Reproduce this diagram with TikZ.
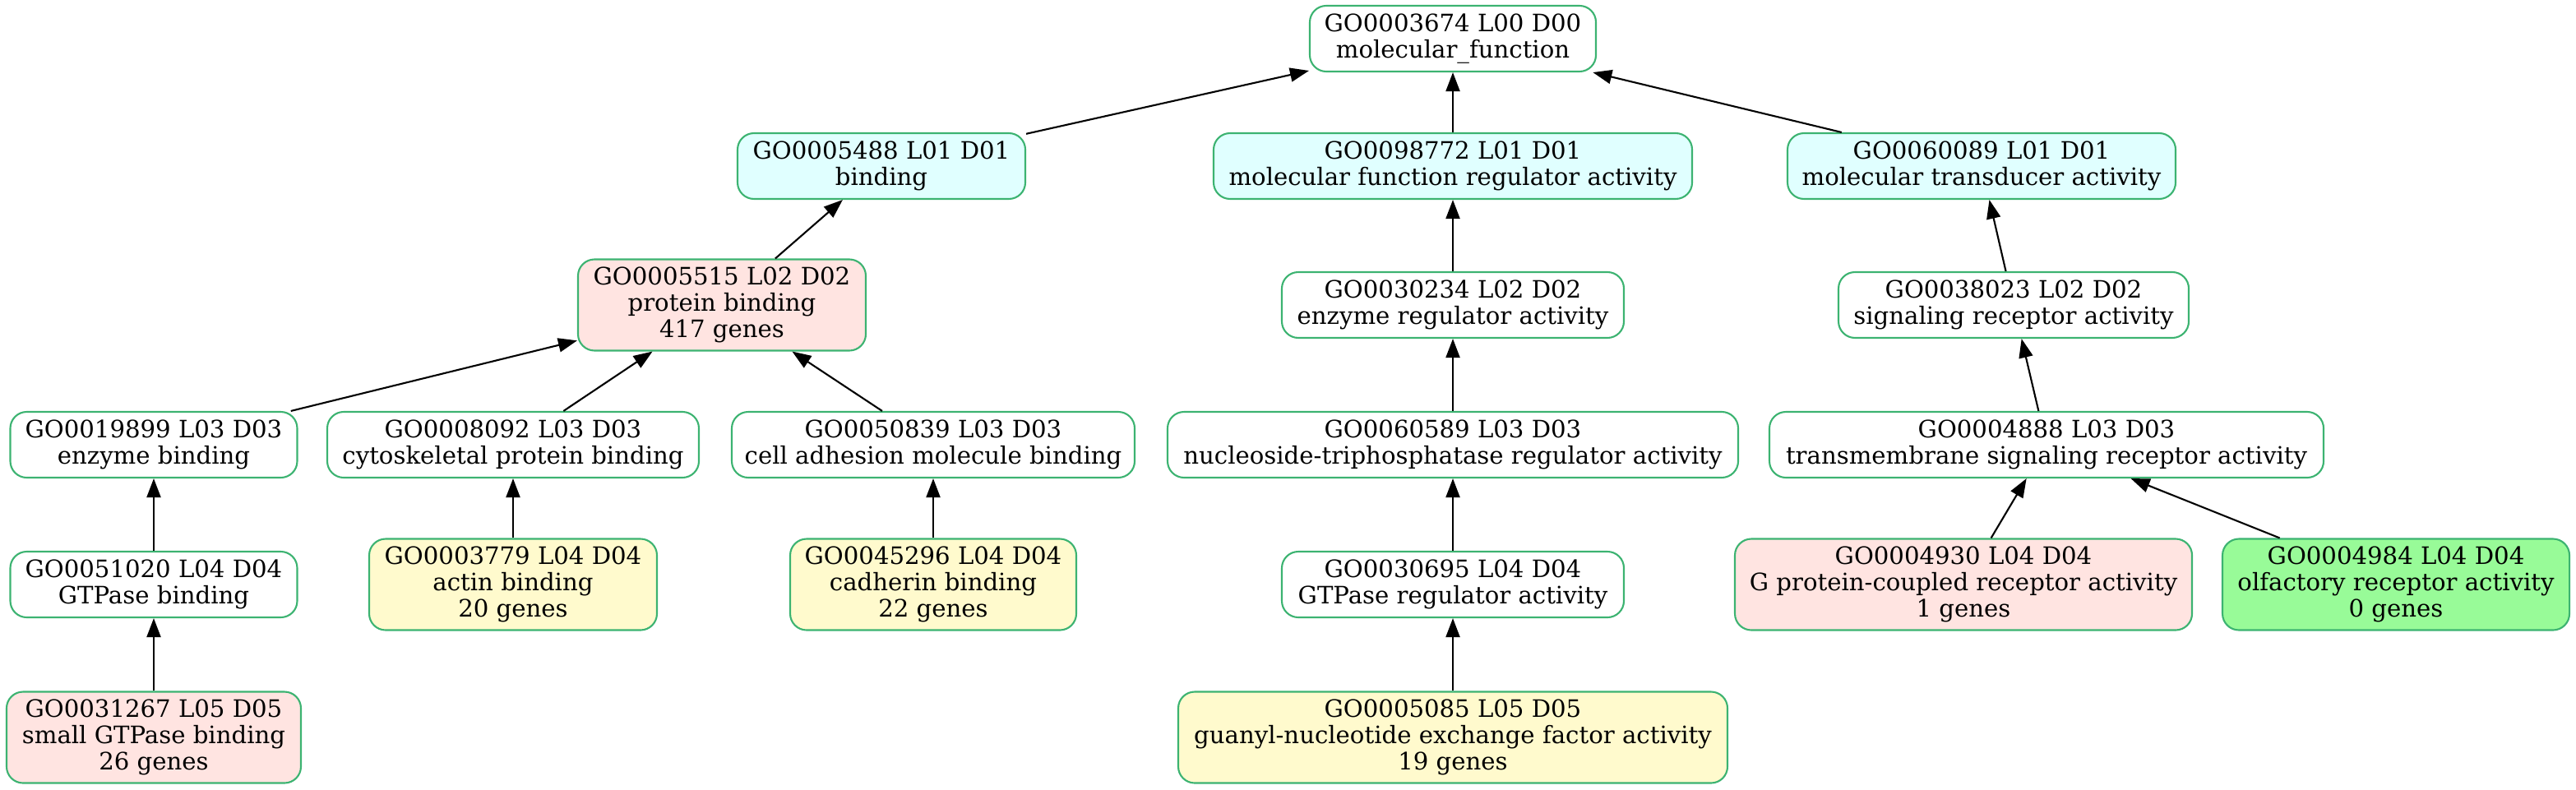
\documentclass[tikz,border=0pt]{standalone}
\usepackage{fontspec}
\setmainfont{DejaVu Serif}
\usetikzlibrary{arrows.meta}
\definecolor{goedge}{HTML}{3CB371}
\definecolor{gocyan}{HTML}{E0FFFF}
\definecolor{gorose}{HTML}{FFE4E1}
\definecolor{golemon}{HTML}{FFFACD}
\definecolor{gopale}{HTML}{98FB98}
\tikzset{
	goterm/.style={draw=goedge, line width=0.6pt, rounded corners=0.2cm, fill=white,
		align=center, inner sep=0pt, minimum height=0.80cm,
		font=\fontsize{8.3}{9.1}\selectfont},
	gohit/.style={goterm, minimum height=1.11cm},
	isa/.style={draw=black, line width=0.6pt, -{Triangle[length=0.23cm, width=0.17cm]}}
}
\begin{document}
\begin{tikzpicture}
		\useasboundingbox (0,0) rectangle (31.33,9.60);
		% level 0
		\node[goterm, minimum width=3.48cm] (mf) at (17.67,9.13) {GO0003674 L00 D00\\molecular\_function};
		% level 1
		\node[goterm, fill=gocyan, minimum width=3.50cm] (bind) at (10.72,7.58) {GO0005488 L01 D01\\binding};
		\node[goterm, fill=gocyan, minimum width=5.82cm] (mfreg) at (17.67,7.58) {GO0098772 L01 D01\\molecular function regulator activity};
		\node[goterm, fill=gocyan, minimum width=4.72cm] (transd) at (24.10,7.58) {GO0060089 L01 D01\\molecular transducer activity};
		% level 2
		\node[gohit, fill=gorose, minimum width=3.50cm] (protbind) at (8.78,5.89) {GO0005515 L02 D02\\protein binding\\417 genes};
		\node[goterm, minimum width=4.16cm] (enzreg) at (17.67,5.89) {GO0030234 L02 D02\\enzyme regulator activity};
		\node[goterm, minimum width=4.26cm] (sigrec) at (24.49,5.89) {GO0038023 L02 D02\\signaling receptor activity};
		% level 3
		\node[goterm, minimum width=3.49cm] (enzbind) at (1.87,4.19) {GO0019899 L03 D03\\enzyme binding};
		\node[goterm, minimum width=4.52cm] (cytobind) at (6.24,4.19) {GO0008092 L03 D03\\cytoskeletal protein binding};
		\node[goterm, minimum width=4.90cm] (adhbind) at (11.35,4.19) {GO0050839 L03 D03\\cell adhesion molecule binding};
		\node[goterm, minimum width=6.94cm] (ntpreg) at (17.67,4.19) {GO0060589 L03 D03\\nucleoside-triphosphatase regulator activity};
		\node[goterm, minimum width=6.74cm] (tmsig) at (24.89,4.19) {GO0004888 L03 D03\\transmembrane signaling receptor activity};
		% level 4
		\node[goterm, minimum width=3.49cm] (gtpbind) at (1.87,2.49) {GO0051020 L04 D04\\GTPase binding};
		\node[gohit, fill=golemon, minimum width=3.50cm] (actin) at (6.24,2.49) {GO0003779 L04 D04\\actin binding\\20 genes};
		\node[gohit, fill=golemon, minimum width=3.48cm] (cadherin) at (11.35,2.49) {GO0045296 L04 D04\\cadherin binding\\22 genes};
		\node[goterm, minimum width=4.16cm] (gtpreg) at (17.67,2.49) {GO0030695 L04 D04\\GTPase regulator activity};
		\node[gohit, fill=gorose, minimum width=5.56cm] (gpcr) at (23.88,2.49) {GO0004930 L04 D04\\G protein-coupled receptor activity\\1 genes};
		\node[gohit, fill=gopale, minimum width=4.22cm] (olf) at (29.14,2.49) {GO0004984 L04 D04\\olfactory receptor activity\\0 genes};
		% level 5
		\node[gohit, fill=gorose, minimum width=3.58cm] (smgtp) at (1.87,0.63) {GO0031267 L05 D05\\small GTPase binding\\26 genes};
		\node[gohit, fill=golemon, minimum width=6.68cm] (gef) at (17.67,0.63) {GO0005085 L05 D05\\guanyl-nucleotide exchange factor activity\\19 genes};
		% is_a edges
		\draw[isa] (bind) -- (mf);
		\draw[isa] (mfreg) -- (mf);
		\draw[isa] (transd) -- (mf);
		\draw[isa] (protbind) -- (bind);
		\draw[isa] (enzreg) -- (mfreg);
		\draw[isa] (sigrec) -- (transd);
		\draw[isa] (enzbind) -- (protbind);
		\draw[isa] (cytobind) -- (protbind);
		\draw[isa] (adhbind) -- (protbind);
		\draw[isa] (ntpreg) -- (enzreg);
		\draw[isa] (tmsig) -- (sigrec);
		\draw[isa] (gtpbind) -- (enzbind);
		\draw[isa] (actin) -- (cytobind);
		\draw[isa] (cadherin) -- (adhbind);
		\draw[isa] (gtpreg) -- (ntpreg);
		\draw[isa] (gpcr) -- (tmsig);
		\draw[isa] (olf) -- (tmsig);
		\draw[isa] (smgtp) -- (gtpbind);
		\draw[isa] (gef) -- (gtpreg);
\end{tikzpicture}
\end{document}
